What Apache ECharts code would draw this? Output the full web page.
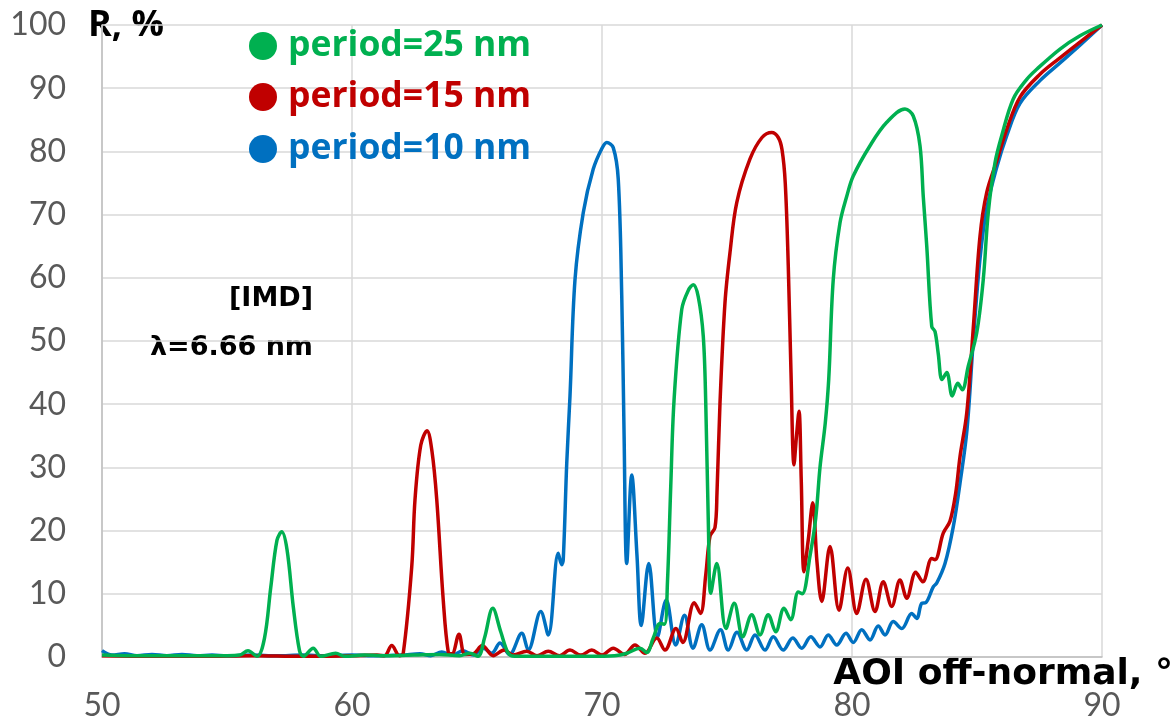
<!DOCTYPE html>
<html>
<head>
<meta charset="utf-8">
<script src="https://cdn.jsdelivr.net/npm/echarts@6/dist/echarts.min.js"></script>
<style>
  html, body { margin: 0; padding: 0; background: #fff; }
  #chart { width: 1175px; height: 720px; }
</style>
</head>
<body>
<div id="chart"></div>
<script>
// AOI (deg) and reflectivity R (%)
var xTicks = [50, 60, 70, 80, 90];
var yTicks = [0, 10, 20, 30, 40, 50, 60, 70, 80, 90, 100];

var greenX = [50, 51, 52, 53, 54, 55, 55.5, 55.84, 56.2, 56.5, 56.75, 57.0, 57.19, 57.4, 57.65, 57.9, 58.05, 58.45, 58.75, 59.35, 59.7, 60.5, 61.5, 62.5, 63.5, 64.3, 64.72, 65.04, 65.3, 65.63, 65.95, 66.25, 66.5, 67.5, 68.5, 69.5, 70.5, 71.0, 71.52, 71.79, 72.05, 72.32, 72.5, 72.62, 72.75, 72.88, 73.19, 73.45, 73.65, 73.85, 74.05, 74.15, 74.26, 74.35, 74.59, 74.96, 75.29, 75.63, 75.99, 76.32, 76.65, 76.95, 77.28, 77.55, 77.85, 78.01, 78.32, 78.55, 78.72, 78.93, 79.07, 79.25, 79.52, 79.79, 80.05, 80.72, 81.39, 82.12, 82.45, 82.72, 82.85, 82.99, 83.19, 83.32, 83.45, 83.6, 83.79, 84.01, 84.23, 84.41, 84.65, 84.99, 85.25, 85.45, 85.72, 85.99, 86.45, 86.99, 87.39, 88.32, 89.12, 90];
var greenY = [0.3, 0.2, 0.2, 0.2, 0.2, 0.2, 0.3, 1.0, 0.1, 3, 11, 18.5, 19.8, 17, 8, 1, 0.1, 1.4, 0.1, 0.6, 0.1, 0.3, 0.2, 0.3, 0.4, 0.2, 0.6, 0.1, 3, 7.7, 4, 0.6, 0.1, 0.1, 0.1, 0.1, 0.2, 0.6, 1.4, 0.7, 3, 5.3, 5.2, 12, 27, 40.5, 55, 58, 58.9, 57, 50.8, 40.2, 20, 10.1, 14.8, 4.5, 8.5, 3.2, 6.7, 3.5, 6.7, 4.0, 7.7, 5.9, 10.3, 10.0, 16, 22, 30, 37, 44, 59.7, 68.7, 72.9, 76.1, 80.9, 84.6, 86.7, 85.6, 80.9, 72.9, 65, 52.3, 51.5, 48, 43.9, 45, 41.3, 43.3, 42.3, 46, 51.3, 59.7, 70.3, 78.2, 82.5, 88.3, 91.4, 93, 96.2, 98.3, 100];

var redX = [50, 52, 54, 56, 58, 60, 61.0, 61.3, 61.59, 61.9, 62.05, 62.39, 62.52, 62.75, 63.0, 63.2, 63.39, 63.65, 63.85, 64.0, 64.28, 64.52, 64.85, 65.21, 65.65, 66.09, 66.45, 66.99, 67.4, 67.85, 68.3, 68.72, 69.15, 69.59, 70.0, 70.45, 70.9, 71.32, 71.72, 72.19, 72.52, 72.96, 73.23, 73.69, 73.94, 74.15, 74.32, 74.52, 74.6, 74.72, 74.92, 75.12, 75.39, 75.92, 76.4, 76.79, 77.05, 77.2, 77.33, 77.45, 77.56, 77.68, 77.78, 77.88, 77.97, 78.08, 78.25, 78.43, 78.6, 78.79, 79.12, 79.48, 79.83, 80.19, 80.56, 80.92, 81.25, 81.59, 81.92, 82.19, 82.55, 82.83, 83.19, 83.32, 83.65, 83.92, 84.15, 84.32, 84.59, 84.85, 85.12, 85.39, 85.79, 86.19, 86.72, 87.52, 88.32, 89.12, 90];
var redY = [0.2, 0.1, 0.1, 0.2, 0.1, 0.2, 0.3, 0.2, 1.8, 0.2, 0.6, 14.3, 24.9, 33.5, 35.8, 32.5, 24.9, 9, 0.8, 0.5, 3.6, 0.4, 0.5, 1.8, 0.2, 1.1, 0.3, 0.9, 0.2, 0.9, 0.2, 1.1, 0.3, 1.1, 0.3, 1.4, 0.4, 1.9, 0.6, 3.0, 1.1, 4.5, 2.3, 8.6, 6.9, 13, 19.1, 20.5, 26, 40.2, 56.1, 64, 71.9, 78.8, 82.2, 83.0, 82.2, 80.3, 75, 62, 45, 30.4, 35, 38.9, 28, 13.5, 18.5, 24.4, 15, 8.8, 17.5, 7.4, 14.1, 6.9, 12.3, 7.2, 11.9, 8.0, 12.2, 9.3, 13.4, 11.9, 15.6, 15.4, 19.6, 21.5, 26, 31.7, 38.6, 52, 66.6, 73.5, 78.5, 83.5, 88.6, 92.2, 94.8, 97.3, 100];

var blueX = [50, 50.4, 50.9, 51.4, 52, 52.6, 53.2, 53.8, 54.4, 55, 56, 57, 58, 59, 60, 61, 62, 62.72, 63.15, 63.59, 64.0, 64.45, 64.85, 65.25, 65.59, 65.92, 66.3, 66.79, 67.05, 67.55, 67.85, 68.25, 68.39, 68.45, 68.59, 68.72, 68.92, 69.25, 69.65, 70.0, 70.19, 70.45, 70.65, 70.79, 70.88, 70.99, 71.19, 71.4, 71.57, 71.87, 72.22, 72.57, 72.95, 73.3, 73.64, 73.99, 74.32, 74.74, 75.05, 75.4, 75.79, 76.12, 76.52, 76.85, 77.25, 77.63, 77.99, 78.35, 78.72, 79.05, 79.39, 79.76, 80.05, 80.39, 80.72, 81.05, 81.32, 81.65, 81.99, 82.39, 82.59, 82.79, 82.95, 83.25, 83.39, 83.72, 84.05, 84.32, 84.6, 84.85, 85.12, 85.39, 85.79, 86.19, 86.72, 87.52, 88.32, 89.12, 90];
var blueY = [1.0, 0.3, 0.5, 0.2, 0.4, 0.2, 0.4, 0.2, 0.3, 0.2, 0.3, 0.2, 0.3, 0.2, 0.3, 0.2, 0.3, 0.5, 0.2, 0.8, 0.3, 1.0, 0.3, 1.4, 0.6, 2.2, 0.4, 3.75, 1.1, 7.2, 3.5, 16.4, 14.6, 15.4, 30.7, 41.3, 59.7, 70.3, 77.2, 80.5, 81.4, 80.6, 75.6, 57.1, 36, 14.8, 28.8, 16, 5, 14.8, 3.2, 9.0, 1.9, 6.6, 1.4, 5.1, 1.1, 4.3, 1.1, 3.9, 1.1, 3.5, 1.1, 3.2, 1.1, 3.0, 1.4, 3.2, 1.6, 3.5, 1.9, 3.75, 2.3, 4.3, 2.7, 4.9, 3.5, 5.6, 4.5, 6.9, 6.1, 8.5, 8.6, 11.1, 11.7, 14.8, 20.6, 27.5, 36, 50, 63, 71, 77.5, 82.5, 87.6, 91.2, 94.0, 96.8, 100];

var seriesNames = ['period=25 nm', 'period=15 nm', 'period=10 nm'];
var seriesColors = ['#00b050', '#c00000', '#0070c0'];

function pairs(xs, ys) {
    var out = [];
    for (var i = 0; i < xs.length; i++) out.push([xs[i], ys[i]]);
    return out;
}

var myChart = echarts.init(document.getElementById('chart'));

function lineSeries(idx, xs, ys) {
    return {
        name: seriesNames[idx],
        type: 'line',
        smooth: 0.35,
        showSymbol: false,
        symbol: 'circle',
        color: seriesColors[idx],
        lineStyle: { width: 3.5, color: seriesColors[idx] },
        data: pairs(xs, ys)
    };
}

function oneLegend(idx, top) {
    return {
        data: [seriesNames[idx]],
        left: 249,
        top: top,
        padding: 0,
        icon: 'circle',
        itemWidth: 28,
        itemHeight: 28,
        itemGap: 0,
        textStyle: {
            fontFamily: 'Open Sans',
            fontWeight: 'bold',
            fontSize: 35.5,
            color: seriesColors[idx],
            padding: [0, 0, 0, 6]
        }
    };
}

myChart.setOption({
    animation: false,
    backgroundColor: '#fff',
    grid: { left: 102, right: 73, top: 25, bottom: 63, outerBoundsMode: 'none', containLabel: false },
    legend: [oneLegend(0, 28), oneLegend(1, 79), oneLegend(2, 131)],
    xAxis: {
        type: 'value',
        min: xTicks[0],
        max: xTicks[xTicks.length - 1],
        interval: 10,
        axisTick: { show: false },
        axisLine: { lineStyle: { color: '#bfbfbf', width: 1.5 } },
        splitLine: { show: true, lineStyle: { color: '#d9d9d9', width: 1.5 } },
        axisLabel: {
            margin: 33,
            fontFamily: 'Lato',
            fontSize: 32,
            color: '#595959'
        }
    },
    yAxis: {
        type: 'value',
        min: yTicks[0],
        max: yTicks[yTicks.length - 1],
        interval: 10,
        axisTick: { show: false },
        axisLine: { show: true, lineStyle: { color: '#bfbfbf', width: 1.5 } },
        splitLine: { show: true, lineStyle: { color: '#d9d9d9', width: 1.5 } },
        axisLabel: {
            margin: 36,
            fontFamily: 'Lato',
            fontSize: 32,
            color: '#595959'
        }
    },
    graphic: [
        { type: 'text', left: 88, top: 8, style: { text: 'R, %', font: 'bold 36px "Open Sans"', fill: '#000' } },
        { type: 'text', right: 2, top: 657, style: { text: 'AOI off-normal, °', font: 'bold 36px "DejaVu Sans"', fill: '#000' } },
        { type: 'text', x: 313, y: 299, style: { text: '[IMD]', font: 'bold 27px "DejaVu Sans"', fill: '#000', textAlign: 'right', textVerticalAlign: 'middle' } },
        { type: 'text', x: 313, y: 348, style: { text: 'λ=6.66 nm', font: 'bold 27px "DejaVu Sans"', fill: '#000', textAlign: 'right', textVerticalAlign: 'middle' } }
    ],
    series: [
        lineSeries(2, blueX, blueY),
        lineSeries(1, redX, redY),
        lineSeries(0, greenX, greenY)
    ]
});
</script>
</body>
</html>
